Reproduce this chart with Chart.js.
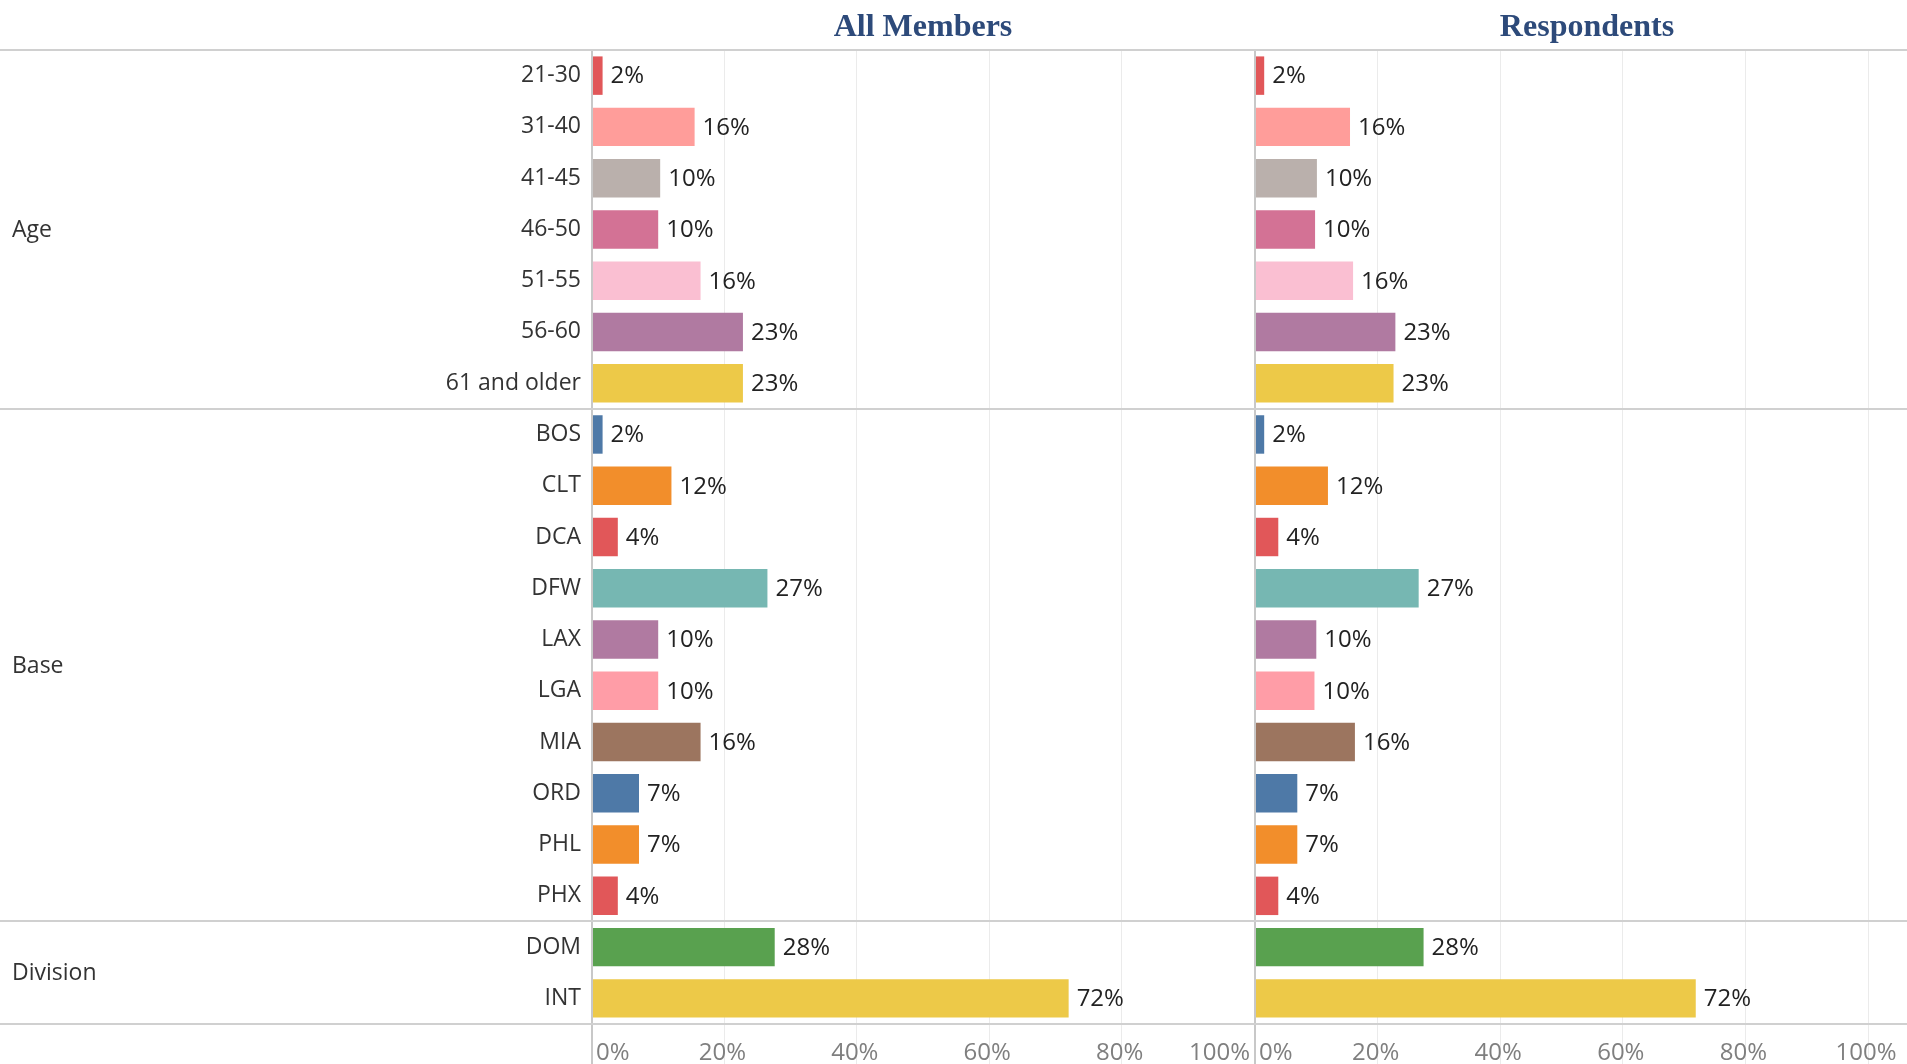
<!DOCTYPE html>
<html>
<head>
<meta charset="utf-8">
<title>All Members vs Respondents</title>
<script src="https://cdn.jsdelivr.net/npm/chart.js@4.4.1/dist/chart.umd.min.js"></script>
<style>
  html, body { margin: 0; padding: 0; background: #fff; overflow: hidden; }
  #wrap { position: relative; width: 1907px; height: 1064px; }
  #allChart { position: absolute; left: 0; top: 0; }
  #respChart { position: absolute; left: 1254px; top: 0; }
</style>
</head>
<body>
<div id="wrap">
  <canvas id="allChart" width="1254" height="1064"></canvas>
  <canvas id="respChart" width="653" height="1064"></canvas>
</div>
<script>
// rows, top to bottom
const categories = [
  '21-30', '31-40', '41-45', '46-50', '51-55', '56-60', '61 and older',
  'BOS', 'CLT', 'DCA', 'DFW', 'LAX', 'LGA', 'MIA', 'ORD', 'PHL', 'PHX',
  'DOM', 'INT'
];
const groupNames = ['Age', 'Base', 'Division'];
const groupSizes = [7, 10, 2];

// percent of members in each row
const allMembers = [1.6, 15.5, 10.3, 10.0, 16.4, 22.8, 22.8,
  1.6, 12.0, 3.9, 26.5, 10.0, 10.0, 16.4, 7.1, 7.1, 3.9,
  27.6, 72.0];
const respondents = [1.5, 15.5, 10.1, 9.8, 16.0, 22.9, 22.6,
  1.5, 11.9, 3.8, 26.7, 10.0, 9.7, 16.3, 6.9, 6.9, 3.8,
  27.5, 71.9];

const barColors = [
  '#e15759', '#ff9d9a', '#bab0ac', '#d37295', '#fabfd2', '#b07aa1', '#edc948',
  '#4e79a7', '#f28e2b', '#e15759', '#76b7b2', '#b07aa1', '#ff9da7', '#9c755f',
  '#4e79a7', '#f28e2b', '#e15759',
  '#59a14f', '#edc948'
];

const tickValues = [0, 20, 40, 60, 80, 100];
const tickLabels = ['0%', '20%', '40%', '60%', '80%', '100%'];

const FONT = '"Open Sans", "Noto Sans", sans-serif';

const panelDecor = {
  id: 'panelDecor',
  beforeDatasetsDraw(chart) {
    const { ctx, chartArea } = chart;
    const y = chart.scales.y;
    const rows = [chartArea.top, chartArea.bottom];
    let start = 0;
    groupSizes.slice(0, -1).forEach(n => {
      start += n;
      rows.push((y.getPixelForValue(start - 1) + y.getPixelForValue(start)) / 2);
    });
    ctx.save();
    ctx.strokeStyle = '#d0d0d0';
    ctx.lineWidth = 2;
    rows.forEach(py => {
      const yy = Math.round(py);
      ctx.beginPath();
      ctx.moveTo(0, yy);
      ctx.lineTo(chart.width, yy);
      ctx.stroke();
    });
    ctx.restore();
  },
  afterDatasetsDraw(chart) {
    const { ctx } = chart;
    const values = chart.data.datasets[0].data;
    ctx.save();
    ctx.font = '24px ' + FONT;
    ctx.fillStyle = '#222';
    ctx.textAlign = 'left';
    ctx.textBaseline = 'middle';
    chart.getDatasetMeta(0).data.forEach((bar, i) => {
      ctx.fillText(Math.round(values[i]) + '%', bar.x + 8, bar.y + 1);
    });
    ctx.restore();
  },
  afterDraw(chart, args, opts) {
    const { ctx, chartArea } = chart;
    ctx.save();

    // panel header
    ctx.font = 'bold 32px "Liberation Serif", serif';
    ctx.fillStyle = '#2d4a7a';
    ctx.textAlign = 'center';
    ctx.textBaseline = 'alphabetic';
    ctx.fillText(opts.title, (chartArea.left + chart.width) / 2 + opts.titleShift, 36);

    // group labels on the far left
    if (opts.showGroups) {
      const y = chart.scales.y;
      ctx.font = '23px ' + FONT;
      ctx.fillStyle = '#333';
      ctx.textAlign = 'left';
      ctx.textBaseline = 'middle';
      let start = 0;
      groupNames.forEach((name, g) => {
        const end = start + groupSizes[g] - 1;
        const py = (y.getPixelForValue(start) + y.getPixelForValue(end)) / 2;
        ctx.fillText(name, 12, py + 1);
        start = end + 1;
      });
    }

    // axis labels, kept inside the panel
    const x = chart.scales.x;
    ctx.font = '24px ' + FONT;
    ctx.fillStyle = '#7f7f7f';
    ctx.textAlign = 'left';
    ctx.textBaseline = 'middle';
    tickValues.forEach((v, i) => {
      const label = tickLabels[i];
      const w = ctx.measureText(label).width;
      let left = x.getPixelForValue(v) - 2 - w / 2;
      left = Math.max(left, chartArea.left + 4);
      left = Math.min(left, chart.width - 4 - w);
      ctx.fillText(label, left, chartArea.bottom + 29);
    });
    ctx.restore();
  }
};

function makeOptions(title, showAxis) {
  const gridColor = c => (c.tick && c.tick.value === 0 ? '#c8c8c8' : '#ebebeb');
  return {
    indexAxis: 'y',
    responsive: false,
    animation: false,
    layout: { padding: { top: 50, left: showAxis ? 0 : 1, right: showAxis ? 0 : 39, bottom: 0 } },
    scales: {
      x: {
        type: 'linear',
        min: 0,
        max: 100,
        afterBuildTicks: s => { s.ticks = tickValues.map(v => ({ value: v })); },
        afterFit: s => { s.height = 40; },
        grid: {
          color: gridColor,
          tickColor: gridColor,
          lineWidth: c => (c.tick && c.tick.value === 0 ? 2 : 1),
          drawTicks: true,
          tickLength: 40
        },
        border: { display: false },
        ticks: { display: false }
      },
      y: {
        type: 'category',
        display: showAxis,
        afterFit: s => { s.width = showAxis ? 592 : 0; },
        grid: { display: false, drawTicks: false },
        border: { display: false },
        ticks: {
          autoSkip: false,
          padding: 11,
          color: '#333',
          font: { family: FONT, size: 23 }
        }
      }
    },
    plugins: {
      legend: { display: false },
      tooltip: { enabled: false },
      panelDecor: { title: title, showGroups: showAxis, titleShift: showAxis ? 0 : 6 }
    }
  };
}

new Chart(document.getElementById('allChart'), {
  type: 'bar',
  data: {
    labels: categories,
    datasets: [{
      label: 'All Members',
      data: allMembers,
      backgroundColor: barColors,
      borderWidth: 0,
      barPercentage: 0.75,
      categoryPercentage: 1
    }]
  },
  options: makeOptions('All Members', true),
  plugins: [panelDecor]
});

new Chart(document.getElementById('respChart'), {
  type: 'bar',
  data: {
    labels: categories,
    datasets: [{
      label: 'Respondents',
      data: respondents,
      backgroundColor: barColors,
      borderWidth: 0,
      barPercentage: 0.75,
      categoryPercentage: 1
    }]
  },
  options: makeOptions('Respondents', false),
  plugins: [panelDecor]
});
</script>
</body>
</html>
